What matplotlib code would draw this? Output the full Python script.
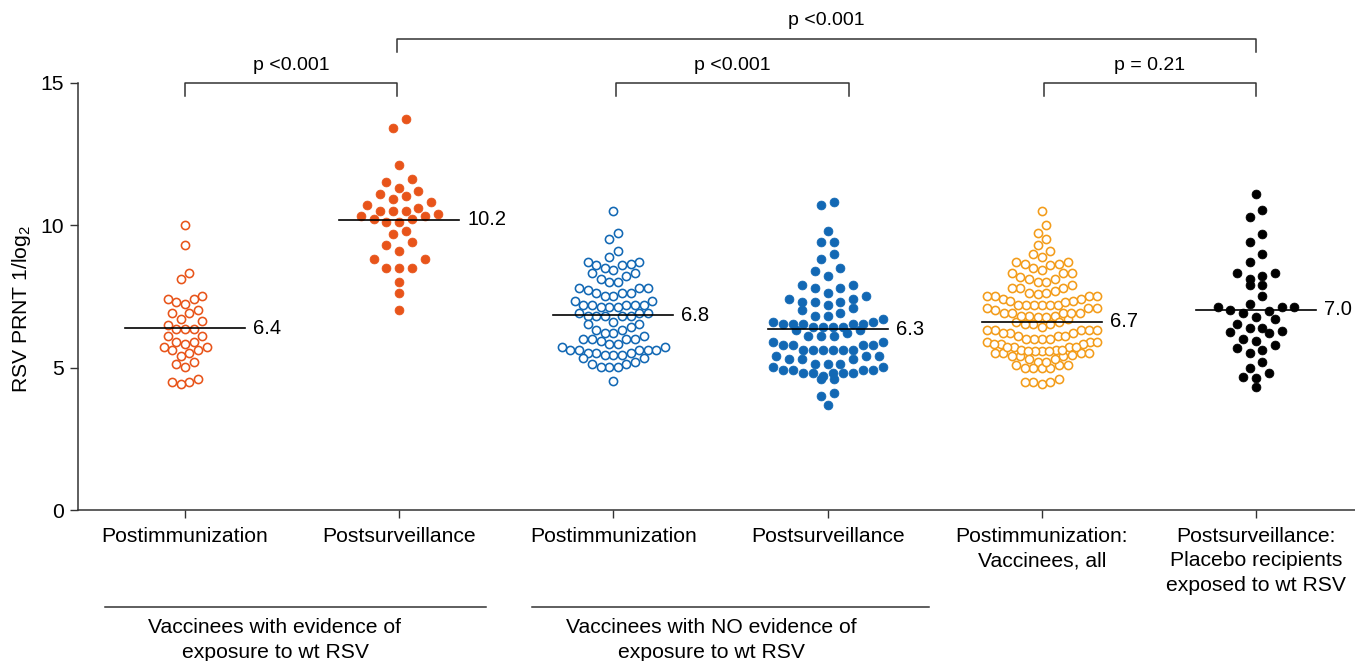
import numpy as np
import matplotlib
matplotlib.use("Agg")
import matplotlib.pyplot as plt

plt.rcParams['font.family'] = ['Liberation Sans', 'DejaVu Sans']
plt.rcParams['mathtext.fontset'] = 'custom'
plt.rcParams['mathtext.rm'] = 'Liberation Sans'
plt.rcParams['mathtext.it'] = 'Liberation Sans'

# ---------------- data ----------------
categories = ["Postimmunization", "Postsurveillance", "Postimmunization",
              "Postsurveillance", "Postimmunization:\nVaccinees, all",
              "Postsurveillance:\nPlacebo recipients\nexposed to wt RSV"]

g1 = [10.01, 9.31, 8.34, 8.10, 7.52, 7.40, 7.22, 7.32, 7.41, 7.02, 6.91, 6.72, 6.91,
      6.63, 6.50, 6.35, 6.35, 6.35, 6.11, 5.91, 5.82, 5.91, 6.11, 5.71, 5.62, 5.41,
      5.50, 5.62, 5.71, 5.13, 5.03, 5.21, 4.51, 4.43, 4.51, 4.59]
g2 = [13.72, 13.41, 12.12, 11.63, 11.51, 11.32, 11.22, 11.11, 11.02, 10.91, 10.82,
      10.70, 10.51, 10.51, 10.51, 10.61, 10.40, 10.33, 10.33, 10.22, 10.22, 10.10,
      10.10, 9.81, 9.69, 9.40, 9.31, 9.11, 8.80, 8.80, 8.51, 8.51, 8.51, 8.01, 7.61, 7.01]
g3 = [10.50, 9.72, 9.51, 9.11, 8.90,
      8.72, 8.63, 8.51, 8.42, 8.62, 8.62, 8.71,
      8.31, 8.11, 8.02, 8.02, 8.21, 8.31,
      7.81, 7.73, 7.61, 7.52, 7.52, 7.61, 7.61, 7.81, 7.81,
      7.34, 7.21, 7.21, 7.12, 7.12, 7.12, 7.21, 7.21, 7.21, 7.34,
      6.91, 6.81, 6.81, 6.81, 6.81, 6.81, 6.91, 6.91,
      6.62,
      6.52, 6.43, 6.33, 6.23, 6.23, 6.33, 6.52,
      6.11, 6.02, 6.02, 5.82, 5.82, 5.92, 6.02, 6.02,
      5.74, 5.62, 5.62, 5.62, 5.53, 5.45, 5.45, 5.45, 5.53, 5.53, 5.62, 5.62, 5.74,
      5.33, 5.21, 5.12, 5.02, 5.02, 5.02, 5.12, 5.33,
      4.52]
g4 = [10.83, 10.71, 9.81, 9.41, 9.41, 9.00, 8.82, 8.51, 8.41, 8.22,
      7.90, 7.81, 7.81, 7.90,
      7.61,
      7.41, 7.32, 7.32, 7.21, 7.32, 7.41, 7.53,
      7.11, 7.01,
      6.91, 6.81, 6.81,
      6.71, 6.62, 6.62,
      6.52, 6.52, 6.52, 6.42, 6.42, 6.32, 6.32, 6.42, 6.42, 6.52, 6.52,
      6.23,
      6.11, 6.11, 6.11,
      5.91, 5.80, 5.80, 5.80, 5.80, 5.91,
      5.62, 5.62, 5.62, 5.62, 5.62, 5.62,
      5.41, 5.41,
      5.41, 5.30, 5.30, 5.30,
      5.12, 5.12, 5.12,
      5.01, 4.92, 4.92, 4.80, 4.80, 4.80, 4.61, 4.61, 4.71, 4.80, 4.80, 4.92, 4.92, 5.01,
      4.10, 4.00, 3.70]
g5 = [10.50, 10.01, 9.72, 9.51, 9.32, 9.11, 9.01, 8.90,
      8.72, 8.64, 8.61, 8.64, 8.72, 8.49, 8.34, 8.34, 8.20, 8.34, 8.43,
      8.11, 8.02, 8.02, 8.11, 7.90, 7.81, 7.81, 7.81,
      7.70, 7.59, 7.52, 7.52, 7.42, 7.42, 7.52, 7.52, 7.61, 7.61,
      7.34, 7.34, 7.20, 7.20, 7.20, 7.11, 7.02, 7.11, 7.11, 7.20, 7.20, 7.20, 7.32,
      6.93, 6.93, 6.79, 6.81, 6.81, 6.62, 6.62, 6.70, 6.81, 6.79, 6.91, 6.91, 6.91,
      6.52, 6.42, 6.32, 6.32, 6.23, 6.23, 6.23, 6.32, 6.32, 6.32, 6.52, 6.52,
      6.11, 6.02, 6.02, 5.91, 5.91, 5.82, 5.82, 5.82, 5.91, 6.02, 6.02, 6.11, 6.11,
      5.74, 5.74, 5.62, 5.60, 5.60, 5.60, 5.50, 5.50, 5.44, 5.41, 5.41, 5.41, 5.50,
      5.53, 5.62, 5.60, 5.62, 5.74, 5.74,
      5.30, 5.19, 5.09, 5.00, 5.00, 5.00, 5.00, 5.09, 5.09, 5.19, 5.30,
      4.60, 4.51, 4.43, 4.51, 4.51]
g6 = [11.10, 10.53, 10.30, 9.69, 9.40, 9.00, 8.70,
      8.31, 8.22, 8.10, 8.31, 7.90, 7.90,
      7.52,
      7.24, 7.12, 7.00, 7.03, 6.91, 7.12, 7.12,
      6.79, 6.71,
      6.40, 6.30, 6.52, 6.21, 6.24, 6.40,
      6.01,
      5.94, 5.70, 5.50, 5.62, 5.80,
      5.21,
      5.00, 4.68, 4.80, 4.63,
      4.31]
groups = [g1, g2, g3, g4, g5, g6]

mean_levels = [6.38, 10.2, 6.84, 6.35, 6.62, 7.04]
mean_labels = ["6.4", "10.2", "6.8", "6.3", "6.7", "7.0"]

colors = ["#E8541A", "#E8541A", "#1268B4", "#1268B4", "#F39C1A", "#000000"]
filled = [False, True, False, True, False, True]

# comparisons: (left x, right x, level, text)
comparisons = [(0.0, 0.99, 15.0, "p <0.001"),
               (2.01, 3.1, 15.0, "p <0.001"),
               (4.01, 5.0, 15.0, "p = 0.21"),
               (0.99, 5.0, 16.55, "p <0.001")]

group_labels = ["Vaccinees with evidence of\nexposure to wt RSV",
                "Vaccinees with NO evidence of\nexposure to wt RSV"]

# ---------------- figure ----------------
W, H = 1355, 661
fig = plt.figure(figsize=(W / 100, H / 100), dpi=100)
ax = fig.add_axes([78 / W, (H - 510) / H, (W - 78) / W, (510 - 83) / H])
ax.set_xlim(-0.5, 5.462)
ax.set_ylim(0, 15)

# pixel scales
p0 = ax.transData.transform((0, 0))
p1 = ax.transData.transform((1, 1))
sx = p1[0] - p0[0]
sy = p1[1] - p0[1]


def row_scatter(values, row_h, spacing, max_w):
    """Prism-like scatter: cluster values into rows, spread each row horizontally."""
    v = np.asarray(values, dtype=float)
    order = np.argsort(-v, kind="stable")
    rows, cur = [], [order[0]]
    for i in order[1:]:
        if (v[cur[0]] - v[i]) * sy <= row_h:
            cur.append(i)
        else:
            rows.append(cur)
            cur = [i]
    rows.append(cur)
    xs = np.zeros(len(v))
    for r in rows:
        n = len(r)
        s = spacing if n < 2 else min(spacing, max_w / (n - 1))
        slots = (np.arange(n) - (n - 1) / 2) * s
        # center slots first, alternating sides
        slot_order = sorted(range(n), key=lambda k: (abs(slots[k]), slots[k]))
        # lowest values go to the center
        r_sorted = sorted(r, key=lambda i: v[i])
        for j, i in enumerate(r_sorted):
            xs[i] = slots[slot_order[j]]
    return xs / sx


for gi, vals in enumerate(groups):
    sp = 12.8 if filled[gi] else 8.6
    off = row_scatter(vals, 10.5, sp, 110.0)
    x = gi + off
    if filled[gi]:
        ax.plot(x, vals, 'o', ms=6.4, mfc=colors[gi], mec=colors[gi], mew=0.5,
                ls='none', clip_on=False, zorder=3)
    else:
        ax.plot(x, vals, 'o', ms=5.9, mfc='white', mec=colors[gi], mew=1.15,
                ls='none', clip_on=False, zorder=3)
    hw = 60 / sx
    ax.plot([gi - hw, gi + hw], [mean_levels[gi]] * 2, color='black', lw=1.2, zorder=4)
    ax.text(gi + hw + 8 / sx, mean_levels[gi], mean_labels[gi], fontsize=14.5,
            va='center', ha='left')

# comparison brackets
for xl, xr, lev, txt in comparisons:
    drop = 13 / sy
    ax.plot([xl, xl, xr, xr], [lev - drop, lev, lev, lev - drop], color='#333333',
            lw=1.1, clip_on=False)
    ax.text((xl + xr) / 2, lev + 18 / sy, txt, ha='center', va='center', fontsize=14)

# axes styling
for s in ['top', 'right']:
    ax.spines[s].set_visible(False)
for s in ['left', 'bottom']:
    ax.spines[s].set_linewidth(1.1)
    ax.spines[s].set_color('#333333')
ax.set_yticks([0, 5, 10, 15])
ax.set_xticks(range(6))
ax.set_xticklabels(categories, fontsize=15.2, linespacing=1.38)
ax.tick_params(axis='y', length=6, width=1, labelsize=15.2, pad=4, colors='#333333',
               labelcolor='black')
ax.tick_params(axis='x', length=6, width=1, pad=6, colors='#333333', labelcolor='black')

fig.text(22 / W, 1 - 309 / H, r'RSV PRNT 1/log$_2$', rotation=90, ha='center',
         va='center', fontsize=15.2)

# group annotation lines and labels
for (xa, xb), (tx, lab) in zip([(105, 486), (532, 929)], [(275, group_labels[0]),
                                                          (711, group_labels[1])]):
    fig.add_artist(plt.Line2D([xa / W, xb / W], [1 - 607 / H] * 2, color='#333333', lw=1.1))
    fig.text(tx / W, 1 - 640 / H, lab, ha='center', va='center', fontsize=15.2,
             linespacing=1.35)

fig.savefig("out.png", dpi=100)
